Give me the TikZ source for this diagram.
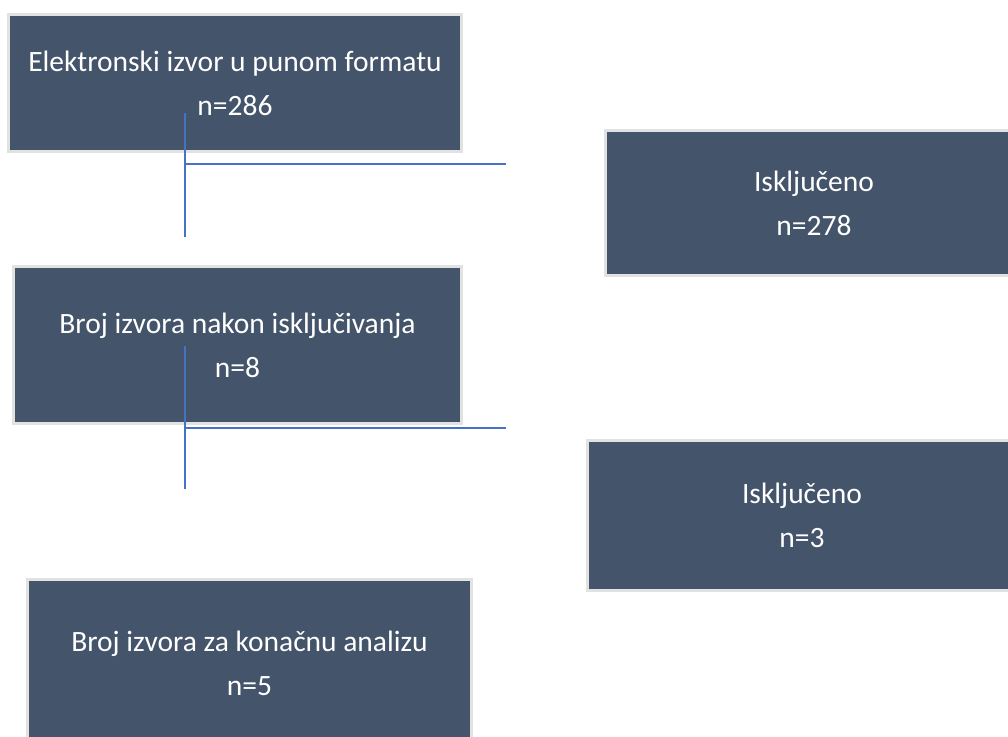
\documentclass[tikz,border=0pt]{standalone}
\usepackage{fontspec}
\setmainfont{Carlito}
\usepackage{xcolor}
\usepackage{tikz}
\definecolor{kutija}{HTML}{44546A}
\definecolor{rub}{HTML}{E2E2E2}
\definecolor{plava}{HTML}{4472C4}
\tikzstyle{blok} = [draw=rub, rectangle,
	line width=2.5pt,
	fill=kutija,
	text=white,
	align=center,
	font=\fontsize{29.5}{44}\selectfont
	]
\tikzstyle{linija} = [draw=plava,
	line width=1.5pt
	]
\begin{document}
\begin{tikzpicture}[x=1pt, y=-1pt]
    \useasboundingbox (0,0) rectangle (1008,736);
    \clip (0,0) rectangle (1008,736);

    \node [blok, minimum width=453pt, minimum height=137pt] at (235,83)  (izvor) {Elektronski izvor u punom formatu\\n=286};
    \node [blok, minimum width=417pt, minimum height=145pt] at (814,203) (iskljuceno1) {Isključeno\\n=278};
    \node [blok, minimum width=448pt, minimum height=157pt] at (237.5,345) (nakon) {Broj izvora nakon isključivanja\\n=8};
    \node [blok, minimum width=429pt, minimum height=150pt] at (802,515.5) (iskljuceno2) {Isključeno\\n=3};
    \node [blok, minimum width=444pt, minimum height=167pt] at (249.5,663) (analiza) {Broj izvora za konačnu analizu\\n=5};

    % prvi korak
    \coordinate (v1gore) at (185,113);
    \coordinate (v1dolje) at (185,237);
    \coordinate (h1kraj) at (506,164);
    \draw [linija] (v1gore) -- (v1dolje);
    \draw [linija] (v1gore |- h1kraj) -- (h1kraj);

    % drugi korak
    \coordinate (v2gore) at (185,346);
    \coordinate (v2dolje) at (185,489);
    \coordinate (h2kraj) at (506,428);
    \draw [linija] (v2gore) -- (v2dolje);
    \draw [linija] (v2gore |- h2kraj) -- (h2kraj);
\end{tikzpicture}
\end{document}
